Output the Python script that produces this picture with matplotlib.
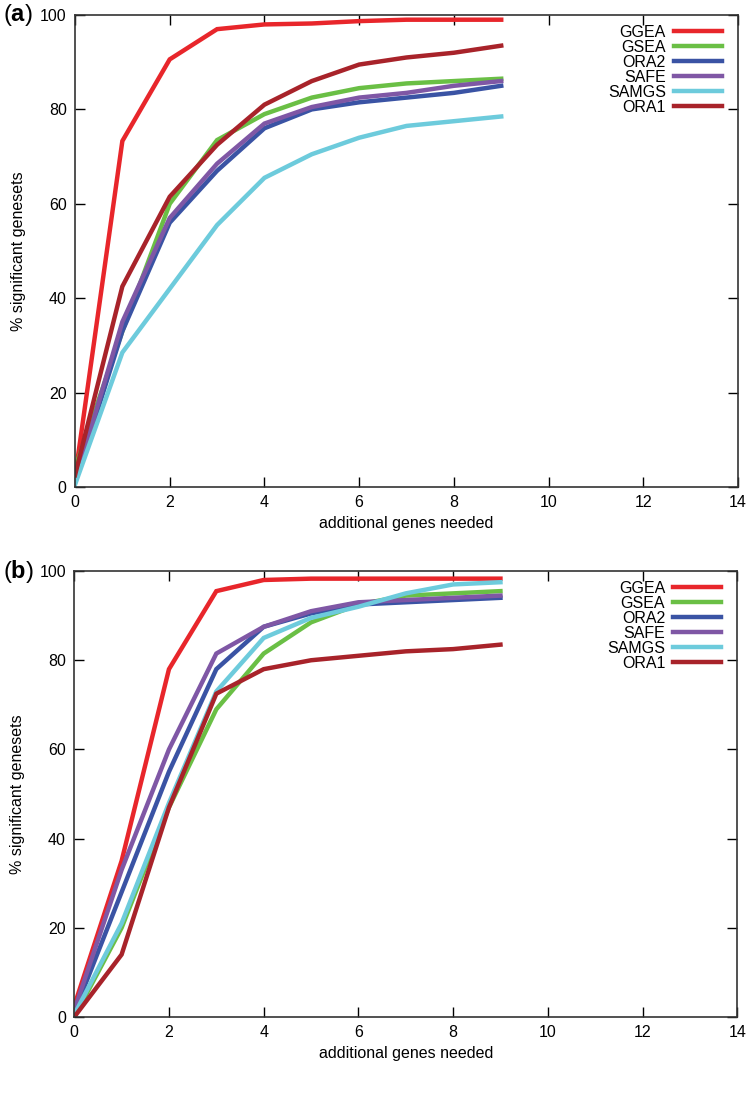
import matplotlib
matplotlib.use("Agg")
import matplotlib.pyplot as plt

plt.rcParams['font.family'] = ['Liberation Sans', 'DejaVu Sans']
plt.rcParams['mathtext.fontset'] = 'custom'
plt.rcParams['mathtext.bf'] = 'Liberation Sans:bold'
plt.rcParams['mathtext.rm'] = 'Liberation Sans'

x = [0, 1, 2, 3, 4, 5, 6, 7, 8, 9]
methods = ["GGEA", "GSEA", "ORA2", "SAFE", "SAMGS", "ORA1"]
colors = ["#e8262b", "#6abf45", "#3a53a4", "#7f57a5", "#6dcbdc", "#a8232a"]

# panel (a)
a_ggea = [2.0, 73.3, 90.6, 97.0, 98.0, 98.2, 98.7, 99.0, 99.0, 99.0]
a_gsea = [4.0, 33.0, 60.0, 73.5, 79.0, 82.5, 84.5, 85.5, 86.0, 86.5]
a_ora2 = [1.0, 33.0, 56.0, 67.0, 76.0, 80.0, 81.5, 82.5, 83.5, 85.0]
a_safe = [1.0, 35.0, 57.0, 68.5, 77.0, 80.5, 82.5, 83.5, 85.0, 86.0]
a_samgs = [0.5, 28.5, 42.0, 55.5, 65.5, 70.5, 74.0, 76.5, 77.5, 78.5]
a_ora1 = [2.5, 42.5, 61.5, 72.5, 81.0, 86.0, 89.5, 91.0, 92.0, 93.5]

# panel (b)
b_ggea = [2.5, 35.0, 78.0, 95.5, 98.0, 98.3, 98.3, 98.3, 98.3, 98.3]
b_gsea = [0.0, 20.0, 47.0, 69.0, 81.5, 88.5, 92.5, 94.5, 95.0, 95.5]
b_ora2 = [1.0, 28.0, 55.0, 78.0, 87.5, 90.5, 92.5, 93.0, 93.5, 94.0]
b_safe = [1.5, 33.0, 60.0, 81.5, 87.5, 91.0, 93.0, 93.5, 94.0, 94.5]
b_samgs = [0.5, 21.0, 48.0, 73.0, 85.0, 89.5, 92.0, 95.0, 97.0, 97.5]
b_ora1 = [0.0, 14.0, 47.0, 72.5, 78.0, 80.0, 81.0, 82.0, 82.5, 83.5]

panels = [
    ("a", [a_ggea, a_gsea, a_ora2, a_safe, a_samgs, a_ora1]),
    ("b", [b_ggea, b_gsea, b_ora2, b_safe, b_samgs, b_ora1]),
]

fig = plt.figure(figsize=(7.5, 10.94), dpi=100)
rects = [
    [0.100, 0.5548, 0.884, 0.4315],
    [0.099, 0.0704, 0.884, 0.4076],
]

for (tag, series), rect in zip(panels, rects):
    ax = fig.add_axes(rect)
    for name, col, ys in zip(methods, colors, series):
        ax.plot(x, ys, color=col, lw=3.2, label=name, solid_joinstyle="miter")
    ax.set_xlim(0, 14)
    ax.set_ylim(0, 100)
    ax.set_xticks(range(0, 15, 2))
    ax.set_yticks(range(0, 101, 20))
    ax.tick_params(direction="in", top=True, right=True, length=7, width=1,
                   labelsize=11.5, pad=6)
    for s in ax.spines.values():
        s.set_linewidth(1.2)
        s.set_color("#333333")
    ax.set_xlabel("additional genes needed", fontsize=11.5, labelpad=4)
    ax.set_ylabel("% significant genesets", fontsize=11.5, labelpad=10)
    ax.legend(loc="upper right", bbox_to_anchor=(0.99, 1.0), frameon=False,
              markerfirst=False, fontsize=11.5, handlelength=3.0,
              labelspacing=0.0, handletextpad=0.5, borderaxespad=0.2)
    fig.text(0.004, rect[1] + rect[3], "($\\mathbf{%s}$)" % tag, fontsize=17,
             va="center", ha="left", color="black")

fig.savefig("out.png", dpi=100)
